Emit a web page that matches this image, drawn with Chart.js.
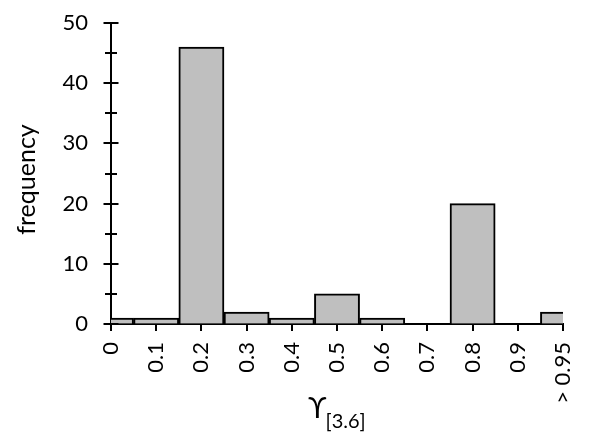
<!DOCTYPE html>
<html>
<head>
<meta charset="utf-8">
<script src="https://cdn.jsdelivr.net/npm/chart.js@4.4.0/dist/chart.umd.min.js"></script>
<style>
html, body { margin: 0; padding: 0; background: #fff; }
#wrap { width: 596px; height: 433px; }
</style>
</head>
<body>
<div id="wrap"><canvas id="myChart" width="596" height="433"></canvas></div>
<script>
// histogram data
var categories = ['0', '0.1', '0.2', '0.3', '0.4', '0.5', '0.6', '0.7', '0.8', '0.9', '> 0.95'];
var frequency = [1, 1, 46, 2, 1, 5, 1, 0, 20, 0, 2];
var yTicks = [0, 10, 20, 30, 40, 50];
var yTitle = 'frequency';
var xTitle = 'ϒ';
var xTitleSub = '[3.6]';

var FONT = "Lato, 'DejaVu Sans', sans-serif";
Chart.defaults.color = '#000';
Chart.defaults.font.family = FONT;

// y ticks crossing the axis, y title, x title with subscript
var extras = {
    id: 'extras',
    afterDraw: function(chart) {
        var ctx = chart.ctx;
        var y = chart.scales.y;
        var area = chart.chartArea;
        ctx.save();
        ctx.strokeStyle = '#000';
        ctx.lineWidth = 2;
        y.ticks.forEach(function(t) {
            var py = Math.round(y.getPixelForValue(t.value));
            var half = yTicks.indexOf(t.value) >= 0 ? 7.5 : 6;
            ctx.beginPath();
            ctx.moveTo(area.left - half, py);
            ctx.lineTo(area.left + half, py);
            ctx.stroke();
        });

        ctx.fillStyle = '#000';

        // y title
        ctx.save();
        ctx.translate(27, (area.top + area.bottom) / 2 + 6);
        ctx.rotate(-Math.PI / 2);
        ctx.textAlign = 'center';
        ctx.textBaseline = 'middle';
        ctx.font = '25px ' + FONT;
        ctx.fillText(yTitle, 0, 0);
        ctx.restore();

        // x title
        ctx.textBaseline = 'alphabetic';
        ctx.textAlign = 'left';
        ctx.font = '29px ' + FONT;
        var w1 = ctx.measureText(xTitle).width;
        ctx.font = '20px ' + FONT;
        var w2 = ctx.measureText(xTitleSub).width;
        var gap = -1;
        var cx = (area.left + area.right) / 2;
        var start = cx - (w1 + gap + w2) / 2;
        ctx.font = '29px ' + FONT;
        ctx.fillText(xTitle, start, 418);
        ctx.font = '20px ' + FONT;
        ctx.fillText(xTitleSub, start + w1 + gap, 428);
        ctx.restore();
    }
};

var ctx = document.getElementById('myChart').getContext('2d');
var myChart = new Chart(ctx, {
    type: 'bar',
    data: {
        labels: categories,
        datasets: [{
            data: frequency,
            backgroundColor: '#bfbfbf',
            borderColor: '#000',
            borderWidth: 2,
            barPercentage: 1,
            categoryPercentage: 1,
            clip: 0
        }]
    },
    options: {
        responsive: false,
        animation: false,
        layout: { padding: { top: 23, right: 33, bottom: 0, left: 0 } },
        plugins: {
            legend: { display: false },
            tooltip: { enabled: false }
        },
        scales: {
            x: {
                offset: false,
                grid: { offset: false, drawOnChartArea: false, drawTicks: true, tickLength: 7, color: '#000', lineWidth: 2 },
                border: { display: true, color: '#000', width: 2 },
                ticks: { autoSkip: false, minRotation: 90, maxRotation: 90, padding: 11, font: { size: 22 } },
                afterFit: function(scale) {
                    scale.height = 109;
                    scale.paddingLeft = 0;
                    scale.paddingRight = 0;
                }
            },
            y: {
                min: 0,
                max: 50,
                grid: { drawOnChartArea: false, drawTicks: false },
                border: { display: true, color: '#000', width: 2 },
                afterBuildTicks: function(scale) {
                    var list = [];
                    yTicks.forEach(function(v, i) {
                        list.push({ value: v });
                        if (i < yTicks.length - 1) list.push({ value: (v + yTicks[i + 1]) / 2 });
                    });
                    scale.ticks = list;
                },
                ticks: {
                    padding: 23,
                    font: { size: 22 },
                    callback: function(value) { return yTicks.indexOf(value) >= 0 ? value : ''; }
                },
                title: { display: false },
                afterFit: function(scale) {
                    scale.width = 111;
                    scale.paddingTop = 0;
                    scale.paddingBottom = 0;
                }
            }
        }
    },
    plugins: [extras]
});
</script>
</body>
</html>
